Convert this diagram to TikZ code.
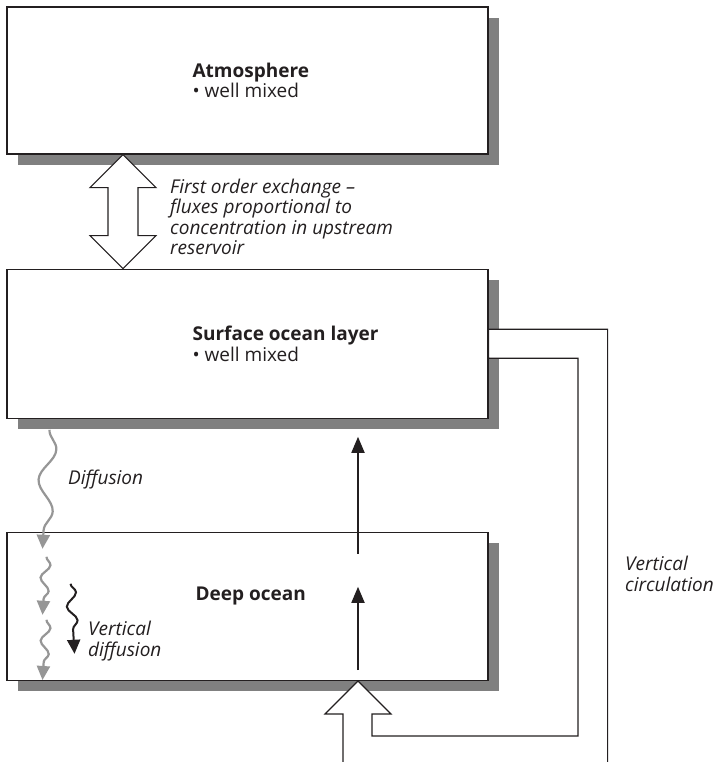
\documentclass[tikz,border=0pt]{standalone}
\usepackage{fontspec}
\setmainfont{Open Sans}
\usetikzlibrary{positioning, calc, arrows.meta, shadows, decorations.pathmorphing}
\definecolor{TintaOscura}{RGB}{35,31,32}
\definecolor{GrisSombra}{RGB}{128,128,128}
\definecolor{GrisOnda}{RGB}{150,150,150}

\begin{document}
\begin{tikzpicture}[
    x=1pt, y=-1pt,
    >={Triangle[length=16pt, width=13pt]}, % punta para los flujos
    reservorio/.style={draw=TintaOscura, line width=1.2pt, fill=white, inner sep=0pt,
        minimum width=481pt,
        general shadow={fill=GrisSombra, shadow xshift=11pt, shadow yshift=-11pt}},
    texto/.style={font=\fontsize{19}{20.5}\selectfont, align=left, text=TintaOscura, inner sep=0pt},
    nota/.style={texto, font=\fontsize{19}{20.5}\selectfont\itshape},
    hueco/.style={draw=TintaOscura, line width=1.1pt, fill=white},
    flujo/.style={->, draw=TintaOscura, line width=1.8pt},
    onda/.style 2 args={decorate, decoration={snake, amplitude=#1, segment length=#2, post length=14pt},
        line width=2.2pt, -{Triangle[length=14pt, width=13pt]}}
]
    \useasboundingbox (0,0) rectangle (718,762);

    % 1. Los tres reservorios
    \node[reservorio, minimum height=147pt] (atm) at (247.5,80.5) {};
    \node[reservorio, minimum height=149pt, below=114pt of atm] (surf) {};
    \node[reservorio, minimum height=148pt, below=113pt of surf] (deep) {};

    \node[texto, right=186pt of atm.west] (atm_lbl) {\textbf{Atmosphere}\\• well mixed};
    \node[texto, right=186pt of surf.west] (surf_lbl) {\textbf{Surface ocean layer}\\• well mixed};
    \node[texto, right=189pt of deep.west, yshift=10pt] (deep_lbl) {\textbf{Deep ocean}};

    % 2. Intercambio atmosfera - oceano (flecha doble hueca)
    \coordinate (ex_top) at ($(atm.south)+(-124.5,0)$);
    \coordinate (ex_bot) at ($(surf.north)+(-124.5,0)$);
    \draw[hueco] (ex_top) -- ++(33,33) -- ++(-18,0) -- ++(0,48) -- ++(18,0) -- (ex_bot)
        -- ++(-33,-33) -- ++(18,0) -- ++(0,-48) -- ++(-18,0) -- cycle;
    \node[nota, anchor=west] (exch_lbl) at (170,217)
        {First order exchange –\\fluxes proportional to\\concentration in upstream\\reservoir};

    % 3. Circulacion vertical (banda hueca que vuelve por la derecha)
    \coordinate (circ_tip) at ($(deep.south)+(110.5,0)$);
    \coordinate (out_low) at ($(surf.east)+(0,14.5)$);
    \coordinate (out_high) at ($(surf.east)+(0,-14.5)$);
    \filldraw[hueco] ($(circ_tip)+(-15,84)$) -- ++(0,-51) -- ++(-18,0) -- (circ_tip)
        -- ++(33,33) -- ++(-19,0) -- ++(0,22) -- ++(206,0) |- (out_low) -- (out_high)
        -- ++(119,0) -- ++(0,434);
    \node[nota, anchor=west] (circ_lbl) at (625,574) {Vertical\\circulation};

    % 4. Flujos verticales dentro del oceano
    \coordinate (up1_start) at ($(deep.north)+(110.5,22)$);
    \coordinate (up1_end) at ($(surf.south)+(110.5,18)$);
    \coordinate (up2_start) at ($(deep.south)+(110.5,-11)$);
    \coordinate (up2_end) at ($(deep.north)+(110.5,55)$);
    \draw[flujo] (up1_start) -- (up1_end);
    \draw[flujo] (up2_start) -- (up2_end);

    % 5. Difusion (ondas grises y negra)
    \coordinate (dif_start) at ($(surf.south)+(-198,11)$);
    \coordinate (dif_end) at ($(deep.north)+(-205,17)$);
    \draw[onda={8pt}{62pt}, draw=GrisOnda] (dif_start) -- (dif_end);
    \node[nota, anchor=west] (dif_lbl) at (68,480) {Diffusion};

    \coordinate (d1_start) at ($(deep.north)+(-201,25)$);
    \coordinate (d1_end) at ($(deep.north)+(-205,83)$);
    \coordinate (d2_start) at ($(deep.north)+(-201,88)$);
    \coordinate (d2_end) at ($(deep.south)+(-205,-1)$);
    \draw[onda={4.5pt}{26pt}, draw=GrisOnda] (d1_start) -- (d1_end);
    \draw[onda={4.5pt}{26pt}, draw=GrisOnda] (d2_start) -- (d2_end);

    \coordinate (vd_start) at ($(deep.north)+(-177,52)$);
    \coordinate (vd_end) at ($(deep.north)+(-173,122)$);
    \draw[onda={5pt}{28pt}, draw=TintaOscura, line width=2pt] (vd_start) -- (vd_end);
    \node[nota, anchor=west] (vd_lbl) at (88,641) {Vertical\\diffusion};

\end{tikzpicture}
\end{document}
